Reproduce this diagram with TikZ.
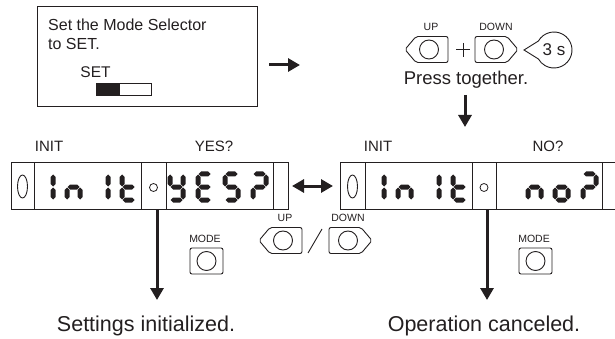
\documentclass[tikz,border=0pt]{standalone}
\usepackage{fontspec}
\setmainfont{Liberation Sans}
\usetikzlibrary{arrows.meta}
\definecolor{ink}{HTML}{231F20}

% seven-segment pieces (cell 18 x 31, y downward)
\newcommand\sgA{\fill[ink] (3,2.5)--(5.5,0)--(12.5,0)--(15,2.5)--(12.5,5)--(5.5,5)--cycle;}
\newcommand\sgG{\fill[ink] (3,15.5)--(5.5,13)--(12.5,13)--(15,15.5)--(12.5,18)--(5.5,18)--cycle;}
\newcommand\sgD{\fill[ink] (3,28.5)--(5.5,26)--(12.5,26)--(15,28.5)--(12.5,31)--(5.5,31)--cycle;}
\newcommand\sgF{\fill[ink] (2.5,3)--(5,5.5)--(5,12.5)--(2.5,15)--(0,12.5)--(0,5.5)--cycle;}
\newcommand\sgE{\fill[ink] (2.5,16)--(5,18.5)--(5,25.5)--(2.5,28)--(0,25.5)--(0,18.5)--cycle;}
\newcommand\sgB{\fill[ink] (15.5,3)--(18,5.5)--(18,12.5)--(15.5,15)--(13,12.5)--(13,5.5)--cycle;}
\newcommand\sgC{\fill[ink] (15.5,16)--(18,18.5)--(18,25.5)--(15.5,28)--(13,25.5)--(13,18.5)--cycle;}
\newcommand\dgt[3]{\begin{scope}[shift={(#1,#2)}]#3\end{scope}}
\newcommand\ssOne{\sgB\sgC}
\newcommand\ssN{\sgE\sgG\sgC}
\newcommand\ssT{\sgF\sgE\sgG\sgD}
\newcommand\ssY{\sgF\sgB\sgG\sgC\sgD}
\newcommand\ssE{\sgA\sgF\sgG\sgE\sgD}
\newcommand\ssS{\sgA\sgF\sgG\sgC\sgD}
\newcommand\ssQ{\sgA\sgB\sgG\sgE}
\newcommand\ssO{\sgG\sgC\sgD\sgE}

% buttons (argument: circle centre)
\newcommand\upbtn[2]{%
  \draw[btn] (#1-24,#2) -- (#1-13,#2-13) -- (#1+19,#2-13) -- (#1+19,#2+13) -- (#1-13,#2+13) -- cycle;
  \draw[btnline] (#1,#2) circle[radius=9.5];}
\newcommand\downbtn[2]{%
  \draw[btn] (#1+24,#2) -- (#1+13,#2+13) -- (#1-19,#2+13) -- (#1-19,#2-13) -- (#1+13,#2-13) -- cycle;
  \draw[btnline] (#1,#2) circle[radius=9.5];}
\newcommand\modebtn[2]{%
  \draw[btn] (#1-16.5,#2-13) rectangle (#1+16.5,#2+13);
  \draw[btnline] (#1,#2) circle[radius=9.5];}

\begin{document}
\begin{tikzpicture}[x=1pt,y=-1pt,
  every node/.style={inner sep=0pt, text=ink},
  bigarrow/.style={draw=ink, line width=3pt, -{Triangle[length=12pt,width=13pt]}},
  bigarrows/.style={draw=ink, line width=3pt, {Triangle[length=12pt,width=13pt]}-{Triangle[length=12pt,width=13pt]}},
  frame/.style={draw=ink, line width=1pt},
  btn/.style={draw=ink, line width=0.9pt, rounded corners=2pt},
  btnline/.style={draw=ink, line width=0.9pt},
  big/.style={font=\fontsize{16}{19}\selectfont},
  huge/.style={font=\fontsize{21.5}{25}\selectfont},
  lab/.style={font=\fontsize{15}{18}\selectfont},
  tiny/.style={font=\fontsize{10.5}{12}\selectfont}]
\clip (0,0) rectangle (615,339);

% ---- instruction box
\node[frame, minimum width=219.5pt, minimum height=100pt] (modebox) at (147.5,57) {};
\node[big, anchor=base west] (t1) at (48,30.7) {Set the Mode Selector};
\node[big, anchor=base west] (t2) at (48,50) {to SET.};
\node[font=\fontsize{15.5}{18}\selectfont, anchor=base] (tset) at (95.5,77.3) {SET};
\node[frame, line width=0.9pt, minimum width=55pt, minimum height=12.5pt] (slider) at (124.2,89.5) {};
\fill[ink] (slider.north west) rectangle (120,95.75);

\coordinate (r1) at (269,65);
\coordinate (r2) at (300,65);
\draw[bigarrow] (r1) -- (r2);

% ---- UP + DOWN, 3 s
\node[tiny, anchor=base] (uplab) at (431,31) {UP};
\node[tiny, anchor=base] (dnlab) at (496,31) {DOWN};
\upbtn{429}{49.5}
\downbtn{494}{49.5}
\draw[ink, line width=1pt] (456,50) -- (470,50) (463,43) -- (463,57);
\coordinate (cc) at (554,50);
\coordinate (tip) at (524,50);
\draw[ink, line width=0.9pt] ([shift={(150:18)}]cc) -- (tip) -- ([shift={(210:18)}]cc) arc[start angle=210, end angle=510, radius=18];
\node[font=\fontsize{17}{20}\selectfont] (three) at (554,50) {3 s};
\node[font=\fontsize{18.5}{22}\selectfont, anchor=base] (press) at (466,85) {Press together.};
\coordinate (d1) at (465,95);
\coordinate (d2) at (465,127);
\draw[bigarrow] (d1) -- (d2);

% ---- labels over displays
\node[lab, anchor=base] (initL) at (49,151.7) {INIT};
\node[lab, anchor=base] (yes) at (214,151.7) {YES?};
\node[lab, anchor=base] (initR) at (378,151.7) {INIT};
\node[lab, anchor=base] (no) at (548,151.7) {NO?};

% ---- left display
\node[frame, minimum width=277pt, minimum height=46pt] (dispL) at (149.5,186) {};
\foreach \x in {34,141,166,273} \draw[frame] (\x,163) -- (\x,209);
\draw[ink, line width=0.9pt] (22.5,186.5) ellipse[x radius=5, y radius=11.5];
\draw[ink, line width=0.8pt] (153.5,187.5) circle[radius=4];
\dgt{37.5}{171.5}{\ssOne}
\dgt{64.5}{171.5}{\ssN}
\dgt{92.5}{171.5}{\ssOne}
\dgt{119.5}{171.5}{\ssT}
\dgt{167.5}{171.5}{\ssY}
\dgt{195.5}{171.5}{\ssE}
\dgt{222.5}{171.5}{\ssS}
\dgt{250.5}{171.5}{\ssQ}

% ---- right display
\node[frame, minimum width=285pt, minimum height=46pt] (dispR) at (482.5,186) {};
\foreach \x in {365,472,496,602} \draw[frame] (\x,163) -- (\x,209);
\draw[ink, line width=0.9pt] (352.5,186.5) ellipse[x radius=5, y radius=11.5];
\draw[ink, line width=0.8pt] (484,187.5) circle[radius=4];
\dgt{368.5}{171.5}{\ssOne}
\dgt{395.5}{171.5}{\ssN}
\dgt{423.5}{171.5}{\ssOne}
\dgt{450.5}{171.5}{\ssT}
\dgt{525.5}{171.5}{\ssN}
\dgt{552.5}{171.5}{\ssO}
\dgt{580.5}{171.5}{\ssQ}

% ---- double arrow between displays
\coordinate (h1) at (292,186);
\coordinate (h2) at (333,186);
\draw[bigarrows] (h1) -- (h2);

% ---- UP / DOWN under
\node[tiny, anchor=base] (uplab2) at (285,221.7) {UP};
\node[tiny, anchor=base] (dnlab2) at (348,221.7) {DOWN};
\upbtn{283}{240.5}
\downbtn{348}{240.5}
\draw[ink, line width=0.9pt] (308,253) -- (322,229);

% ---- MODE buttons
\node[tiny, anchor=base] (modeL) at (205,242.7) {MODE};
\modebtn{206.5}{261}
\node[tiny, anchor=base] (modeR) at (534,242.7) {MODE};
\modebtn{535.5}{261}

% ---- result arrows and texts
\coordinate (aL) at (157,300);
\coordinate (aR) at (487,300);
\draw[bigarrow] (dispL.south -| aL) -- (aL);
\draw[bigarrow] (dispR.south -| aR) -- (aR);
\node[huge, anchor=base] (resL) at (146,331) {Settings initialized.};
\node[huge, anchor=base] (resR) at (484,331) {Operation canceled.};
\end{tikzpicture}
\end{document}
